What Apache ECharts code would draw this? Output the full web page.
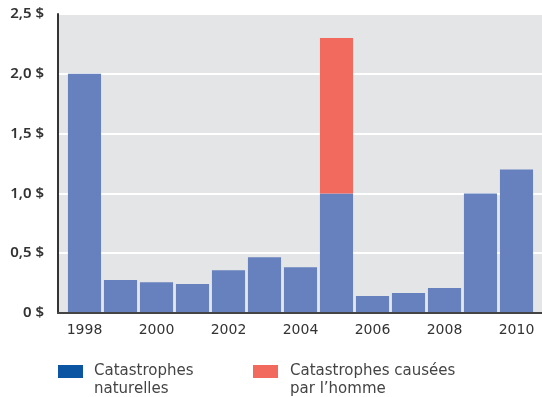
<!DOCTYPE html>
<html>
<head>
<meta charset="utf-8">
<script src="https://cdn.jsdelivr.net/npm/echarts@6/dist/echarts.min.js"></script>
<style>
  html, body { margin: 0; padding: 0; background: #fff; }
  #chart { width: 542px; height: 397px; }
</style>
</head>
<body>
<div id="chart"></div>
<script>
// Coûts des catastrophes (milliards de $), 1998-2010
const years = ['1998','1999','2000','2001','2002','2003','2004','2005','2006','2007','2008','2009','2010'];
const naturelles = [2.0, 0.275, 0.258, 0.242, 0.358, 0.467, 0.383, 1.0, 0.142, 0.167, 0.208, 1.0, 1.2];
const humaines   = [0, 0, 0, 0, 0, 0, 0, 1.3, 0, 0, 0, 0, 0];
const yTicks = [0, 0.5, 1.0, 1.5, 2.0, 2.5];
const legendNames = ['Catastrophes\nnaturelles', 'Catastrophes causées\npar l\u2019homme'];

const barBlue = '#6780BE';
const barRed = '#F26A5E';
const legendBlue = '#0B55A3';
const font = '"Noto Sans", sans-serif';
const wideFont = '"DejaVu Sans", sans-serif';

const chart = echarts.init(document.getElementById('chart'));

function fmtTick(v) {
  if (v === 0) return '0 $';
  return v.toFixed(1).replace('.', ',') + ' $';
}

chart.setOption({
  animation: false,
  grid: [
    { left: 58, right: 0, top: 14, bottom: 84, show: true, backgroundColor: '#E4E5E7', borderWidth: 0 },
    { left: 66.5, width: 468, top: 14, bottom: 84 }
  ],
  xAxis: [
    {
      gridIndex: 0, type: 'value', min: 0, max: 1, z: 5,
      axisLine: { show: true, lineStyle: { color: '#444', width: 2 } },
      axisTick: { show: false }, axisLabel: { show: false }, splitLine: { show: false }
    },
    {
      gridIndex: 1, type: 'category', data: years,
      axisLine: { show: false }, axisTick: { show: false },
      axisLabel: { interval: 1, color: '#333', fontFamily: wideFont, fontSize: 14, margin: 10 }
    }
  ],
  yAxis: [
    {
      gridIndex: 0, type: 'value', min: yTicks[0], max: yTicks[yTicks.length - 1], interval: 0.5,
      axisLine: { show: true, lineStyle: { color: '#333', width: 2 } },
      axisTick: { show: false },
      splitLine: { show: true, lineStyle: { color: '#fff', width: 2 } },
      axisLabel: { formatter: fmtTick, color: '#333', fontFamily: font, fontSize: 15, fontWeight: 600, margin: 14 }
    },
    {
      gridIndex: 1, type: 'value', min: yTicks[0], max: yTicks[yTicks.length - 1], show: false
    }
  ],
  series: [
    {
      name: legendNames[0], type: 'bar', stack: 'total', xAxisIndex: 1, yAxisIndex: 1,
      data: naturelles, barCategoryGap: '8%', itemStyle: { color: barBlue }
    },
    {
      name: legendNames[1], type: 'bar', stack: 'total', xAxisIndex: 1, yAxisIndex: 1,
      data: humaines, barCategoryGap: '8%', itemStyle: { color: barRed }
    }
  ],
  graphic: [
    { type: 'rect', left: 58, top: 365, shape: { width: 25, height: 13 }, style: { fill: legendBlue } },
    { type: 'text', left: 94, top: 362, style: { text: legendNames[0], fill: '#444', font: '15px ' + wideFont, lineHeight: 18 } },
    { type: 'rect', left: 253, top: 365, shape: { width: 25, height: 13 }, style: { fill: barRed } },
    { type: 'text', left: 290, top: 362, style: { text: legendNames[1], fill: '#444', font: '15px ' + wideFont, lineHeight: 18 } }
  ]
});
</script>
</body>
</html>
